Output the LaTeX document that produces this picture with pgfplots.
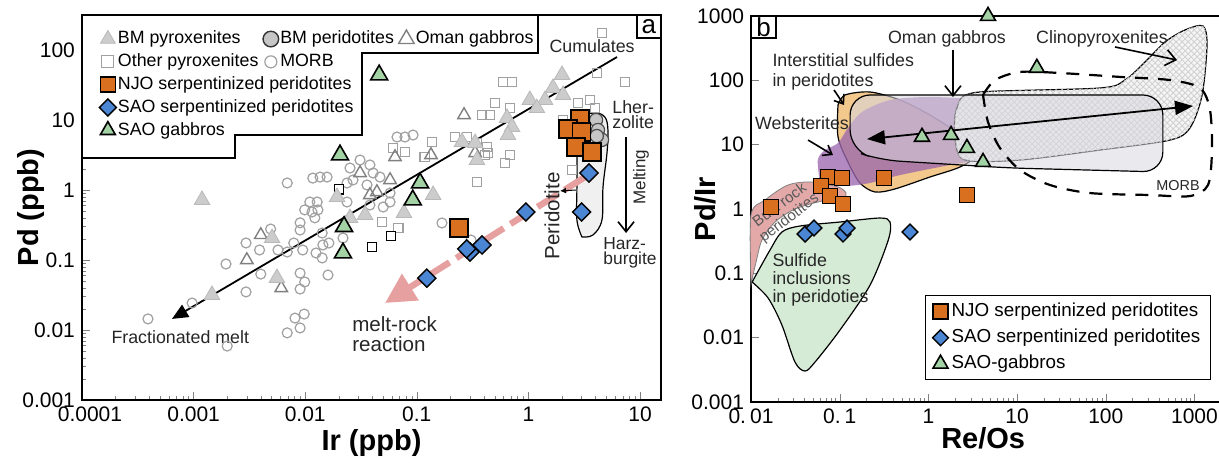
\documentclass[border=0pt]{standalone}
\usepackage{fontspec}
\setmainfont{Liberation Sans}
\usepackage{pgfplots}
\pgfplotsset{compat=1.18}
\usetikzlibrary{arrows.meta,patterns}

\definecolor{njo}{HTML}{D9701F}
\definecolor{sao}{HTML}{4A86D4}
\definecolor{gab}{HTML}{A3D3A5}
\definecolor{pinkarrow}{HTML}{E6A0A0}
\definecolor{litgrey}{HTML}{A0A0A0}
\definecolor{fgreen}{HTML}{D6EBD6}
\definecolor{fpink}{HTML}{E3A9A9}
\definecolor{forange}{HTML}{F2C88C}
\definecolor{fpurple}{HTML}{9C68AE}
\definecolor{fgrey}{HTML}{D8D8E0}

\newcommand\legfont{\fontsize{8.9}{10.5}\selectfont}
\newcommand\legfontb{\fontsize{9.4}{10.5}\selectfont}
\newcommand\tickfont{\fontsize{10.5}{12}\selectfont}
\newcommand\labfont{\fontsize{14.5}{16}\selectfont\bfseries}

\begin{document}
\begin{tikzpicture}
\useasboundingbox (0,0) rectangle (609.5pt,231pt);

% ================= Panel a =================
\begin{axis}[scale only axis, xmode=log, ymode=log, clip=false,
  axis line style={line width=1.4pt},
  tick align=inside, major tick length=4pt, minor tick length=2pt,
  xtick pos=left, ytick pos=left,
  tick label style={font=\tickfont},
  at={(41pt,31pt)}, width=289.5pt, height=192.5pt,
  xmin=1e-4, xmax=15.42, ymin=1e-3, ymax=316.2,
  xtick={1e-4,1e-3,1e-2,1e-1,1,10},
  xticklabels={\hspace*{8pt}0.0001,0.001,0.01,0.1,1,10},
  ytick={1e-3,1e-2,1e-1,1,10,100},
  yticklabels={0.001,0.01,0.1,1,10,100},
  xlabel={Ir (ppb)}, ylabel={Pd (ppb)},
  every axis x label/.style={at={(axis description cs:0.5,-0.112)}, anchor=center, font=\labfont},
  every axis y label/.style={at={(axis description cs:-0.088,0.5)}, anchor=center, rotate=90, font=\labfont},
  legend image code/.code={\draw[#1] plot coordinates {(0pt,0pt)};},
  legend columns=3,
  legend style={draw=none, fill=none, font=\legfont, inner xsep=3pt, inner ysep=2pt,
    row sep=1pt, nodes={inner sep=0.8pt, text height=6.8pt, text depth=2pt},
    /tikz/every even column/.append style={column sep=1.5pt},
    at={(0.019,0.976)}, anchor=north west},
  legend cell align=left,
]
\addlegendimage{only marks, mark=triangle*, mark size=4.3pt, mark options={fill=gray!40, draw=gray!55, line width=0.4pt}}
\addlegendentry{BM pyroxenites}
\addlegendimage{only marks, mark=*, mark size=3.9pt, mark options={fill=gray!45, draw=black!80, line width=0.7pt}}
\addlegendentry{BM peridotites}
\addlegendimage{only marks, mark=triangle, mark size=4.5pt, mark options={draw=gray, line width=0.7pt}}
\addlegendentry{Oman gabbros}
\addlegendimage{only marks, mark=square, mark size=3pt, mark options={draw=litgrey, line width=0.6pt}}
\addlegendentry{Other pyroxenites}
\addlegendimage{only marks, mark=o, mark size=3pt, mark options={draw=litgrey, line width=0.6pt}}
\addlegendentry{MORB}
\addlegendimage{empty legend}\addlegendentry{}
\addlegendimage{only marks, mark=square*, mark size=3.75pt, mark options={fill=njo, draw=black, line width=0.8pt}}
\addlegendentry{\makebox[0pt][l]{NJO serpentinized peridotites}}
\addlegendimage{empty legend}\addlegendentry{}
\addlegendimage{empty legend}\addlegendentry{}
\addlegendimage{only marks, mark=square*, mark size=3pt, mark options={rotate=45, fill=sao, draw=black, line width=0.7pt}}
\addlegendentry{\makebox[0pt][l]{SAO serpentinized peridotites}}
\addlegendimage{empty legend}\addlegendentry{}
\addlegendimage{empty legend}\addlegendentry{}
\addlegendimage{only marks, mark=triangle*, mark size=4.3pt, mark options={fill=gab, draw=black, line width=0.8pt}}
\addlegendentry{SAO gabbros}

% MORB
\addplot[forget plot, only marks, mark=o, mark size=2.5pt, mark options={draw=litgrey, line width=0.6pt}] coordinates {
(0.00039,0.0144) (0.00097,0.0243) (0.0020,0.0059) (0.00195,0.0877) (0.00295,0.175)
(0.0039,0.139) (0.0057,0.139) (0.0049,0.277) (0.00295,0.035) (0.0040,0.063)
(0.0090,0.268) (0.0079,0.175) (0.0069,0.130) (0.0090,0.065) (0.0099,0.0485)
(0.0090,0.0385) (0.0125,0.126) (0.0142,0.107) (0.0144,0.164) (0.0163,0.175)
(0.016,0.061) (0.0081,0.0148) (0.0098,0.0169) (0.0090,0.0107) (0.0069,0.0091)
(0.0069,1.26) (0.0117,1.48) (0.0136,1.53) (0.0157,1.53) (0.0110,0.674)
(0.0128,0.674) (0.0099,0.52) (0.0115,0.485) (0.0130,0.52) (0.0122,0.40)
(0.0090,0.34) (0.0237,1.26) (0.0268,1.39) (0.0252,2.06) (0.031,2.68)
(0.038,2.28) (0.0406,1.75) (0.0358,1.18) (0.0468,1.53) (0.0576,0.906)
(0.0576,0.674) (0.050,0.571) (0.0665,5.71) (0.0783,5.71) (0.0925,6.1)
(0.0237,0.674) (0.038,0.61) (0.0218,0.206) (0.168,0.338) (0.306,0.193)
(0.0142,0.243) (0.0095,0.139)};
% Other pyroxenites
\addplot[forget plot, only marks, mark=square, mark size=2.4pt, mark options={draw=litgrey, line width=0.6pt}] coordinates {
(0.137,4.85) (0.0783,3.49) (0.0612,3.98) (0.118,2.96) (0.22,5.71) (0.384,11.8)
(0.453,11.8) (0.502,17.5) (0.426,4.11) (0.435,3.38) (0.346,1.30) (0.0488,0.349)
(0.068,0.286) (4.56,175) (4.12,46.9) (7.34,34.9) (0.592,34.9) (0.713,34.9)
(0.684,14.8) (2.78,17.5) (3.56,19.3) (3.95,14.8) (2.04,10) (0.408,3.16)
(0.684,3.16) (0.617,2.43) (2.46,1.93) (0.282,5.71) (0.346,4.69)};
\addplot[forget plot, only marks, mark=square*, mark size=2.4pt, mark options={fill=white, draw=black, line width=0.6pt}] coordinates {
(0.0201,1.03) (0.0587,0.22) (0.0397,0.153)};
% Oman gabbros
\addplot[forget plot, only marks, mark=triangle, mark size=3.6pt, mark options={draw=gray, line width=0.7pt}] coordinates {
(0.0040,0.228) (0.0030,0.1) (0.0061,0.0398) (0.265,11.8) (0.031,1.75) (0.0638,2.96)
(0.0576,1.39) (0.134,3.16) (0.333,3.38) (0.038,0.849) (0.0439,0.936)};
% BM pyroxenites
\addplot[forget plot, only marks, mark=triangle*, mark size=4.5pt, mark options={fill=gray!40, draw=gray!55, line width=0.4pt}] coordinates {
(0.00119,0.72) (0.00505,0.206) (0.00558,0.0553) (0.00146,0.0316) (0.0193,0.794)
(0.0252,0.398) (0.0344,0.44) (0.0767,0.47) (0.14,0.849) (0.254,4.85) (0.333,4.69)
(0.346,2.68) (2.0,44) (1.66,28.7) (2.04,22.8) (1.03,19.3) (1.41,19.3) (1.19,14.8)
(0.643,10.7) (0.713,7.94) (0.656,6.1)};
% Lherzolite field
\addplot[forget plot, fill=gray!12, draw=black, line width=0.6pt, smooth, tension=0.6] coordinates {
(3.02,0.213) (2.72,0.373) (2.72,1.10) (2.72,3.38) (2.72,7.2) (2.9,11.0) (3.95,12.6) (4.85,11.0) (5.16,7.2) (5.06,3.38) (4.66,1.10) (4.56,0.373)
(3.79,0.228) (3.02,0.213)} -- cycle;
% BM peridotites
\addplot[forget plot, only marks, mark=*, mark size=3.3pt, mark options={fill=gray!45, draw=black!70, line width=0.6pt}] coordinates {
(4.04,10) (4.2,7.2) (4.57,5.2) (4.1,5.9)};
% trend lines
\addplot[forget plot, line width=0.9pt, -{Triangle[length=8pt,width=7pt]}] coordinates {(6.22,79.4) (0.00064,0.0144)};
\addplot[forget plot, pinkarrow, line width=3.2pt, dash pattern=on 12pt off 4pt, -{Triangle[length=15pt,width=15pt]}] coordinates {(3.21,1.53) (0.0519,0.0243)};
\addplot[forget plot, line width=0.8pt, -{Straight Barb[length=5pt,width=8pt]}] coordinates {(7.5,5.71) (7.5,0.243)};
\addplot[forget plot, line width=0.5pt, -{Latex[length=3pt,width=3pt]}] coordinates {(2.67,1.0) (1.92,0.97)};
% samples
\addplot[forget plot, only marks, mark=square*, mark size=4.5pt, mark options={fill=njo, draw=black, line width=0.8pt}] coordinates {
(0.239,0.286) (2.9,10.3) (2.26,7.44) (3.0,6.74) (2.67,4.11) (3.72,3.49)};
\addplot[forget plot, only marks, mark=square*, mark size=3.2pt, mark options={rotate=45, fill=sao, draw=black, line width=0.7pt}] coordinates {
(3.49,1.75) (3.0,0.485) (0.95,0.485) (0.384,0.164) (0.30,0.13) (0.28,0.144) (0.123,0.055)};
\addplot[forget plot, only marks, mark=triangle*, mark size=4.9pt, mark options={fill=gab, draw=black, line width=0.8pt}] coordinates {
(0.046,44) (0.0205,3.16) (0.107,1.26) (0.092,0.72) (0.0223,0.30) (0.0218,0.126)};

% legend outline
\draw[line width=1pt, fill=white] (rel axis cs:0,1) -- (rel axis cs:0.7876,1) -- (rel axis cs:0.7876,0.9013)
 -- (rel axis cs:0.4836,0.9013) -- (rel axis cs:0.4836,0.6883) -- (rel axis cs:0.2642,0.6883)
 -- (rel axis cs:0.2642,0.6286) -- (rel axis cs:0,0.6286) -- cycle;
\draw[line width=1.2pt, fill=white] (rel axis cs:0.9585,0.9403) rectangle (rel axis cs:1,1);
\node[font=\fontsize{13}{14}\selectfont] at (rel axis cs:0.979,0.970) {a};

% annotations
\node[font=\legfont, text=black!85] at (axis cs:3.72,114) {Cumulates};
\node[font=\fontsize{8.9}{7.5}\selectfont, align=left, anchor=west, inner sep=0pt, text=black!85] at (axis cs:5.61,11.8) {Lher-\\zolite};
\node[font=\fontsize{8.7}{7.5}\selectfont, align=left, anchor=west, inner sep=0pt, text=black!85] at (axis cs:4.66,0.128) {Harz-\\burgite};
\node[font=\fontsize{8.5}{9}\selectfont, rotate=90, text=black!85] at (axis cs:10.2,1.53) {Melting};
\node[font=\fontsize{10.3}{11}\selectfont, rotate=90, text=black!85] at (axis cs:1.63,0.425) {Peridotite};
\node[font=\legfont, text=black!85] at (axis cs:0.00076,0.0079) {Fractionated melt};
\node[font=\fontsize{10.3}{10}\selectfont, align=left, anchor=west, inner sep=0pt, text=black!85] at (axis cs:0.0262,0.00877) {melt-rock\\reaction};
\end{axis}

% ================= Panel b =================
\begin{axis}[scale only axis, xmode=log, ymode=log, clip=false,
  axis line style={line width=1.4pt},
  tick align=inside, major tick length=4pt, minor tick length=2pt,
  xtick pos=left, ytick pos=left,
  tick label style={font=\tickfont},
  at={(375.5pt,30pt)}, width=235pt, height=193pt,
  xmin=0.01, xmax=1991, ymin=1e-3, ymax=1000, yminorticks=false,
  xtick={0.01,0.1,1,10,100,1000},
  xticklabels={0.\hspace{2pt}01,0.\hspace{2pt}1,1,10,100,1000},
  ytick={1e-3,1e-2,1e-1,1,10,100,1000},
  yticklabels={0.001,0.01,0.1,1,10,100,1000},
  xlabel={Re/Os}, ylabel={Pd/Ir},
  every axis x label/.style={at={(axis description cs:0.494,-0.093)}, anchor=center, font=\labfont},
  every axis y label/.style={at={(axis description cs:-0.098,0.5)}, anchor=center, rotate=90, font=\labfont},
  legend image code/.code={\draw[#1] plot coordinates {(0pt,0pt)};},
  legend style={draw=black, line width=0.7pt, fill=white, font=\legfontb, inner xsep=3.5pt, inner ysep=2pt,
    row sep=1pt, nodes={inner sep=1.6pt, text height=6.8pt, text depth=2pt},
    at={(0.370,0.277)}, anchor=north west},
  legend cell align=left,
]
% bulk rock peridotites
\addplot[forget plot, fill=fpink, draw=gray, line width=0.4pt, smooth, tension=0.5] coordinates {
(0.01,0.0682) (0.01,0.807) (0.0144,1.38) (0.0261,2.36) (0.0488,2.63) (0.0957,2.2)
(0.118,1.77) (0.109,1.48) (0.063,1.33) (0.0313,1.0) (0.0187,0.628) (0.0133,0.33) (0.0114,0.15) (0.01,0.0682)} -- cycle;
% sulfide inclusions
\addplot[forget plot, fill=fgreen, draw=black, line width=0.6pt, smooth, tension=0.5] coordinates {
(0.0103,0.0733) (0.0164,0.231) (0.0223,0.439) (0.0356,0.544) (0.1007,0.628) (0.284,0.724)
(0.369,0.628) (0.353,0.33) (0.22,0.0658) (0.1007,0.01315) (0.0527,0.00418) (0.0407,0.00303)
(0.0313,0.00418) (0.0223,0.01574) (0.0156,0.0413) (0.0103,0.0733)} -- cycle;
% interstitial sulfides
\addplot[forget plot, fill=forange, draw=black, line width=0.6pt, smooth, tension=0.5] coordinates {
(0.0957,41.4) (0.115,59.2) (0.22,65.9) (0.479,49.4) (1.04,28.9) (2.27,14.1) (3.35,6.9)
(2.27,4.5) (1.04,3.14) (0.42,2.05) (0.25,1.84) (0.169,2.54) (0.124,5.37) (0.0957,13.2) (0.0957,41.4)} -- cycle;
% websterites
\addplot[forget plot, fill=fpurple, fill opacity=0.78, draw=none, smooth, tension=0.5] coordinates {
(0.06,2.54) (0.0566,5.78) (0.0682,8.26) (0.0957,10.6) (0.124,18.2) (0.178,32.2) (0.369,49.4)
(1.04,55.1) (3.82,49.4) (18.1,34.6) (45,22.5) (54,17.5) (39.5,13.2) (14,8.26) (4.94,6.2)
(1.75,4.83) (0.479,3.37) (0.22,2.54) (0.115,2.28) (0.06,2.54)} -- cycle;
% clinopyroxenites
\addplot[forget plot, fill=gray!8, draw=black, line width=0.6pt, smooth, tension=0.5] coordinates {
(2.27,49.4) (3.82,65.9) (86,76) (164,101) (277,193) (465,394) (781,606) (1247,700)
(1384,354) (1219,59.2) (889,18.2) (530,11.8) (86,8.26) (10.8,5.78) (2.59,5.78) (2.0,11.8) (2.0,28.9) (2.27,49.4)} -- cycle;
\addplot[forget plot, pattern=crosshatch, pattern color=gray!35, draw=none, smooth, tension=0.5] coordinates {
(2.27,49.4) (3.82,65.9) (86,76) (164,101) (277,193) (465,394) (781,606) (1247,700)
(1384,354) (1219,59.2) (889,18.2) (530,11.8) (86,8.26) (10.8,5.78) (2.59,5.78) (2.0,11.8) (2.0,28.9) (2.27,49.4)} -- cycle;
% Oman gabbros
\addplot[forget plot, fill=fgrey, fill opacity=0.55, draw=black, line width=0.6pt, rounded corners=10pt] coordinates {
(0.131,59.2) (440,59.2) (440,3.76) (8.32,4.34) (0.284,5.78) (0.131,8.26)} -- cycle;
% MORB
\addplot[forget plot, draw=black, line width=1.1pt, dash pattern=on 6.5pt off 5pt, smooth, tension=0.5] coordinates {
(4.13,59.2) (5.64,101) (10.8,135) (30.5,130) (145,113) (530,101) (1153,76) (1496,34.6)
(1574,8.26) (1420,2.36) (889,1.59) (315,1.65) (66.4,1.77) (23.5,2.36) (10.8,4.04) (6.41,8.87) (4.7,22.5) (4.13,59.2)};
% arrows
\addplot[forget plot, line width=0.9pt, {Triangle[length=9pt,width=7pt]}-{Triangle[length=9pt,width=7pt]}] coordinates {(0.203,12.2) (962,39.9)};
\addplot[forget plot, line width=0.8pt, -{Straight Barb[length=5pt,width=8pt]}] coordinates {(1.89,296) (1.89,55.1)};
\addplot[forget plot, line width=0.8pt, -{Straight Barb[length=5pt,width=8pt]}] coordinates {(127,330) (635,207)};
\addplot[forget plot, line width=0.8pt, -{Straight Barb[length=4pt,width=6pt]}] coordinates {(0.0863,70.8) (0.112,41.4)};
\addplot[forget plot, line width=0.8pt, -{Straight Barb[length=4pt,width=6pt]}] coordinates {(0.044,11.8) (0.084,6.9)};

% samples
\addplot[only marks, mark=square*, mark size=3.75pt, mark options={fill=njo, draw=black, line width=0.8pt}] coordinates {
(0.0168,1.07) (0.0738,3.14) (0.106,3.03) (0.0615,2.27) (0.0778,1.59) (0.109,1.2) (0.316,3.03) (2.72,1.65)};
\addlegendentry{NJO serpentinized peridotites}
\addplot[only marks, mark=square*, mark size=2.8pt, mark options={rotate=45, fill=sao, draw=black, line width=0.7pt}] coordinates {
(0.0407,0.408) (0.0513,0.506) (0.109,0.408) (0.121,0.506) (0.62,0.44)};
\addlegendentry{SAO serpentinized peridotites}
\addplot[only marks, mark=triangle*, mark size=4.3pt, mark options={fill=gab, draw=black, line width=0.8pt}] coordinates {
(0.847,13.2) (1.8,14.1) (2.72,8.87) (4.13,5.37) (4.7,1000) (16.7,156)};
\addlegendentry{SAO-gabbros}

% labels
\draw[line width=1.2pt, fill=white] (rel axis cs:0,0.943) rectangle (rel axis cs:0.053,1);
\node[font=\fontsize{13}{14}\selectfont] at (rel axis cs:0.0266,0.9715) {b};
\node[font=\legfont, text=black!85] at (axis cs:1.62,439) {Oman gabbros};
\node[font=\legfont, text=black!85] at (axis cs:90.6,439) {Clinopyroxenites};
\node[font=\fontsize{8.9}{10}\selectfont, align=left, anchor=west, inner sep=0pt, text=black!85] at (axis cs:0.0173,135) {Interstitial sulfides\\in peridotites};
\node[font=\legfont, text=black!85] at (axis cs:0.0376,21.7) {Websterites};
\node[font=\fontsize{8.9}{9}\selectfont, align=left, anchor=west, inner sep=0pt, text=black!85] at (axis cs:0.0173,0.0787) {Sulfide\\inclusions\\in peridoties};
\node[font=\fontsize{7.2}{8}\selectfont, text=black!85] at (axis cs:652,2.28) {MORB};
\node[font=\fontsize{7.6}{7.8}\selectfont, rotate=37, align=center, text=black!65] at (axis cs:0.024,0.9) {Bulk rock\\peridotites};
\end{axis}
\end{tikzpicture}
\end{document}
